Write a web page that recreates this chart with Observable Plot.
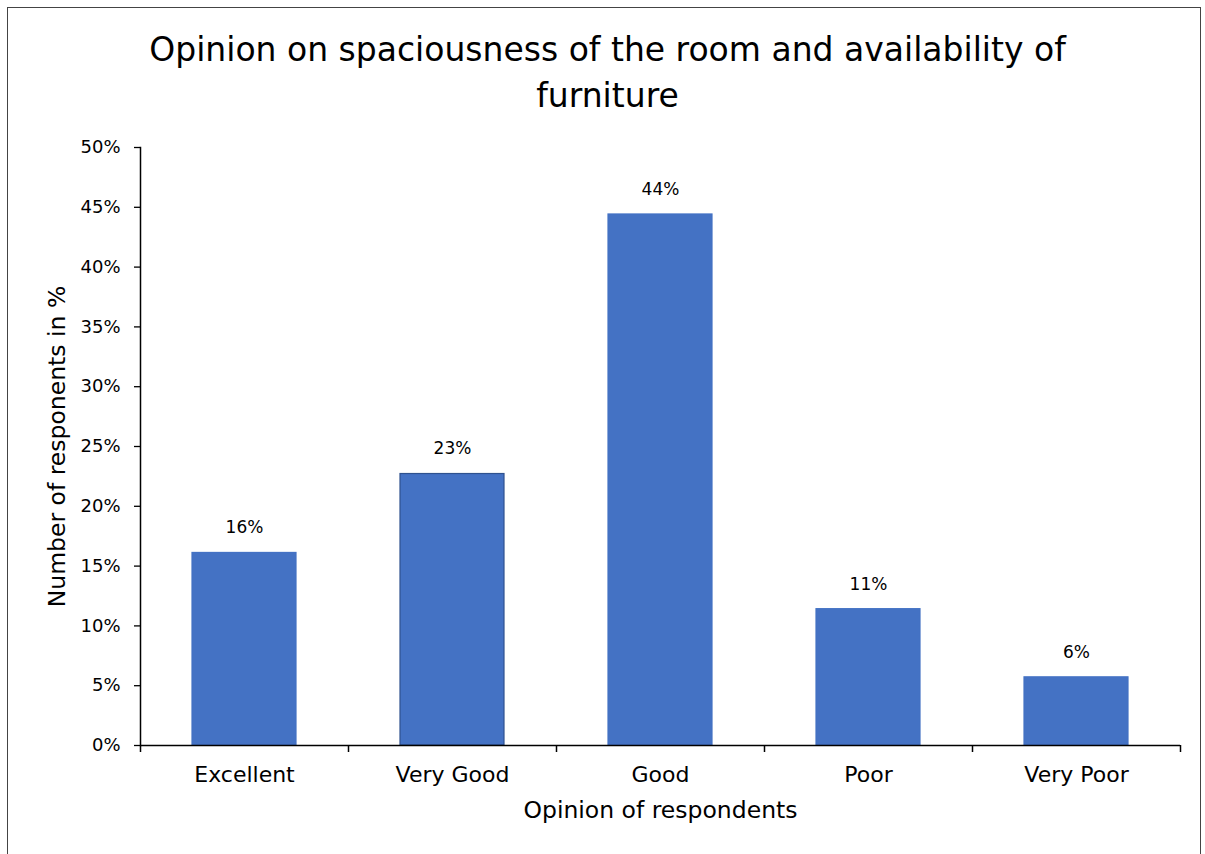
<!DOCTYPE html>
<html>
<head>
<meta charset="utf-8">
<script src="https://cdn.jsdelivr.net/npm/d3@7"></script>
<script src="https://cdn.jsdelivr.net/npm/@observablehq/plot@0.6"></script>
<style>
  html, body { margin: 0; padding: 0; background: #fff; }
  body { width: 1205px; height: 854px; position: relative; overflow: hidden; font-family: "DejaVu Sans", sans-serif; }
  #frame { position: absolute; left: 7px; top: 7px; width: 1194px; height: 900px; border: 1px solid #444; box-sizing: border-box; }
  #title { position: absolute; left: 0; width: 1215px; top: 27px; text-align: center; font-size: 33px; line-height: 46px; color: #000; }
  #chart { position: absolute; left: 0; top: 130px; }
</style>
</head>
<body>
<div id="frame"></div>
<div id="title">Opinion on spaciousness of the room and availability of<br>furniture</div>
<div id="chart"></div>
<script>
const categories = ["Excellent", "Very Good", "Good", "Poor", "Very Poor"];
const values = [16.1, 22.7, 44.4, 11.4, 5.7];
const labels = ["16%", "23%", "44%", "11%", "6%"];
const yTicks = [0, 5, 10, 15, 20, 25, 30, 35, 40, 45, 50];
const xTitle = "Opinion of respondents";
const yTitle = "Number of responents in %";

const data = categories.map((c, i) => ({category: c, value: values[i], label: labels[i]}));

const W = 1205, H = 724;
const mL = 140, mR = 25, mT = 17, mB = 109;
const step = (W - mL - mR) / categories.length;

const chart = Plot.plot({
  width: W,
  height: H,
  marginLeft: mL,
  marginRight: mR,
  marginTop: mT,
  marginBottom: mB,
  style: {fontFamily: "DejaVu Sans, sans-serif", color: "#000", background: "transparent"},
  x: {domain: categories, paddingInner: 0.5, paddingOuter: 0.25},
  y: {domain: [0, 50]},
  marks: [
    Plot.barY(data, {
      x: "category", y: "value", fill: "#4472C4",
      stroke: d => d.category === "Very Good" ? "#2F528F" : "#4472C4",
      strokeWidth: 1.2
    }),
    Plot.text(data, {x: "category", y: "value", text: "label", dy: -25, fontSize: 17, fill: "#000"}),
    Plot.ruleY([0], {stroke: "#000", strokeWidth: 1.5}),
    Plot.frame({anchor: "left", stroke: "#000", strokeWidth: 1.5}),
    Plot.axisY({ticks: yTicks, tickSize: 6, tickPadding: 14, tickFormat: d => d + "%", fontSize: 18, label: null, stroke: "#000", strokeWidth: 1.3}),
    Plot.axisX({tickSize: 0, tickPadding: 21, fontSize: 22, label: null}),
    // category boundary ticks
    Plot.ruleX(categories, {x: d => d, y1: 0, y2: 0, dx: -step / 2, insetBottom: -7, stroke: "#000", strokeWidth: 1.5}),
    Plot.ruleX(categories.slice(-1), {x: d => d, y1: 0, y2: 0, dx: step / 2, insetBottom: -7, stroke: "#000", strokeWidth: 1.5}),
    Plot.text([xTitle], {frameAnchor: "bottom", dy: 72, fontSize: 23.5, fill: "#000"}),
    Plot.text([yTitle], {frameAnchor: "left", dx: -83, rotate: -90, textAnchor: "middle", fontSize: 23.5, fill: "#000"})
  ]
});
document.getElementById("chart").appendChild(chart);
</script>
</body>
</html>
